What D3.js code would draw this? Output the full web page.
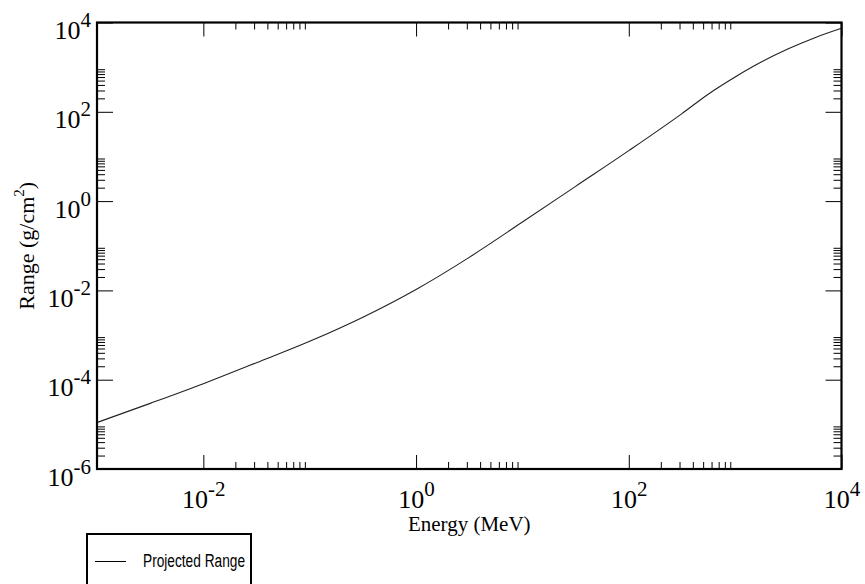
<!DOCTYPE html>
<html><head><meta charset="utf-8">
<script src="https://cdn.jsdelivr.net/npm/d3@7"></script>
<style>body{margin:0;background:#fff;overflow:hidden}</style>
</head><body>
<script>
// ---- data ----
const energy = [1e-3, 3.162e-3, 1e-2, 3.162e-2, 0.1, 0.3162, 1, 3.162, 10, 31.62, 100, 316.2, 562.3, 1000, 1778, 3162, 5623, 1e4];
const range  = [1.10e-5, 2.95e-5, 8.13e-5, 2.40e-4, 7.24e-4, 2.51e-3, 1.05e-2, 5.50e-2, 0.339, 2.14, 13.5, 91.2, 251, 603, 1318, 2570, 4570, 7410];
const xMajorTicks = [1e-2, 1, 1e2, 1e4];
const yMajorTicks = [1e-6, 1e-4, 1e-2, 1, 1e2, 1e4];
const xMinorDecades = [1e-2, 1, 1e2];
const yMinorDecades = [1e-6, 1e-4, 1e-2, 1, 1e2];
const minorMultipliers = [2, 3, 4, 5, 6, 7, 8, 9];
const seriesName = "Projected Range";
const xTitle = "Energy (MeV)";
const yTitleMain = "Range (g/cm";
const yTitleSup = "2";
const yTitleEnd = ")";

// ---- layout ----
const W = 865, H = 584;
const L = 97, R = 841.5, T = 22.5, B = 469;
const serif = "'Liberation Serif', 'Times New Roman', serif";
const sans = "'Liberation Sans', Arial, sans-serif";

const svg = d3.select("body").append("svg").attr("width", W).attr("height", H);
svg.append("rect").attr("width", W).attr("height", H).attr("fill", "#fff");

const x = d3.scaleLog().domain([1e-3, 1e4]).range([L, R]);
const y = d3.scaleLog().domain([1e-6, 1e4]).range([B, T]);

const xMinor = xMinorDecades.flatMap(d => minorMultipliers.map(k => k * d));
const yMinor = yMinorDecades.flatMap(d => minorMultipliers.map(k => k * d));

function expOf(v) { return Math.round(Math.log10(v)); }
function powLabel(sel, supSize, supDy) {
  sel.each(function(d) {
    const t = d3.select(this);
    t.text(null);
    t.append("tspan").text("10");
    t.append("tspan").attr("font-size", supSize).attr("dy", supDy).text(String(expOf(d)));
  });
}

// minor ticks (bottom, top, left, right)
const gB = svg.append("g").attr("transform", `translate(0,${B})`)
  .call(d3.axisBottom(x).tickValues(xMinor).tickSize(-7).tickFormat(""));
const gT = svg.append("g").attr("transform", `translate(0,${T})`)
  .call(d3.axisTop(x).tickValues(xMinor).tickSize(-7).tickFormat(""));
const gL = svg.append("g").attr("transform", `translate(${L},0)`)
  .call(d3.axisLeft(y).tickValues(yMinor).tickSize(-8).tickFormat(""));
const gR = svg.append("g").attr("transform", `translate(${R},0)`)
  .call(d3.axisRight(y).tickValues(yMinor).tickSize(-8).tickFormat(""));

// major ticks with labels
const gBM = svg.append("g").attr("transform", `translate(0,${B})`)
  .call(d3.axisBottom(x).tickValues(xMajorTicks).tickSize(-14).tickFormat(d => d));
const gTM = svg.append("g").attr("transform", `translate(0,${T})`)
  .call(d3.axisTop(x).tickValues(xMajorTicks).tickSize(-14).tickFormat(""));
const gLM = svg.append("g").attr("transform", `translate(${L},0)`)
  .call(d3.axisLeft(y).tickValues(yMajorTicks).tickSize(-16).tickFormat(d => d));
const gRM = svg.append("g").attr("transform", `translate(${R},0)`)
  .call(d3.axisRight(y).tickValues(yMajorTicks).tickSize(-16).tickFormat(""));

[gB, gT, gL, gR, gBM, gTM, gLM, gRM].forEach(g => {
  g.select(".domain").remove();
  g.selectAll(".tick line").attr("stroke", "#000").attr("stroke-width", 1);
});

gBM.selectAll(".tick text")
  .attr("y", 39).attr("dy", null)
  .attr("font-family", serif).attr("font-size", 26).attr("fill", "#000")
  .attr("text-anchor", "middle")
  .call(powLabel, 21, -12);

gLM.selectAll(".tick text")
  .attr("x", -6).attr("y", 16).attr("dy", null)
  .attr("font-family", serif).attr("font-size", 26).attr("fill", "#000")
  .attr("text-anchor", "end")
  .call(powLabel, 21, -12);

// curve
const line = d3.line()
  .x((d, i) => x(energy[i]))
  .y(d => y(d))
  .curve(d3.curveMonotoneX);
svg.append("path").datum(range)
  .attr("d", line).attr("fill", "none").attr("stroke", "#222").attr("stroke-width", 1.1);

// frame
svg.append("rect").attr("x", L).attr("y", T).attr("width", R - L).attr("height", B - T)
  .attr("fill", "none").attr("stroke", "#000").attr("stroke-width", 2.2);

// axis titles
svg.append("text").attr("x", (L + R) / 2).attr("y", 531)
  .attr("text-anchor", "middle").attr("font-family", serif).attr("font-size", 21)
  .attr("fill", "#000").text(xTitle);

const yt = svg.append("text")
  .attr("transform", `translate(34,${(T + B) / 2}) rotate(-90)`)
  .attr("text-anchor", "middle").attr("font-family", serif).attr("font-size", 22).attr("fill", "#000");
yt.append("tspan").text(yTitleMain);
yt.append("tspan").attr("font-size", 15).attr("dy", -10).text(yTitleSup);
yt.append("tspan").attr("dy", 10).text(yTitleEnd);

// legend
const lg = svg.append("g");
lg.append("rect").attr("x", 87).attr("y", 534).attr("width", 164).attr("height", 70)
  .attr("fill", "#fff").attr("stroke", "#000").attr("stroke-width", 2);
lg.append("line").attr("x1", 95).attr("x2", 126).attr("y1", 561.5).attr("y2", 561.5)
  .attr("stroke", "#000").attr("stroke-width", 1);
lg.append("text").attr("x", 143).attr("y", 567).attr("font-family", sans).attr("font-size", 18)
  .attr("textLength", 102).attr("lengthAdjust", "spacingAndGlyphs")
  .attr("fill", "#000").text(seriesName);
</script>
</body></html>
